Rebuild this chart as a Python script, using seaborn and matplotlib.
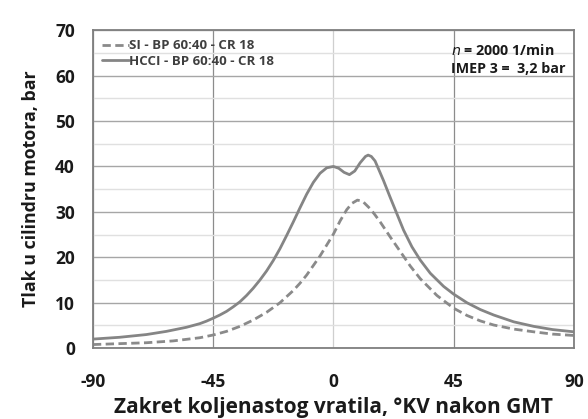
import numpy as np
import pandas as pd
import matplotlib
matplotlib.use("Agg")
import matplotlib.pyplot as plt
import seaborn as sns

angle_hcci = [-90, -80, -70, -62.5, -55, -50, -47.5, -45, -42.5, -40, -37.5, -35, -32.5, -30, -27.5,
              -25, -22.5, -20, -17.5, -15, -12.5, -10, -7.5, -5, -2.5, 0, 2, 4, 6, 8, 10, 12, 13,
              14.2, 15.6, 17, 18.75, 21.25, 23.75, 26.25, 29.4, 32.5, 36.25, 41.25, 45, 50, 55, 60,
              67.5, 75, 82, 90]
p_hcci = [2.0, 2.4, 3.0, 3.7, 4.6, 5.4, 5.95, 6.6, 7.3, 8.1, 9.1, 10.2, 11.6, 13.2, 15.0,
          17.0, 19.3, 21.9, 24.8, 27.8, 30.9, 33.9, 36.5, 38.5, 39.7, 40.0, 39.6, 38.7, 38.2, 39.0, 40.8, 42.2, 42.5,
          42.2, 41.2, 39.3, 36.9, 33.2, 29.6, 26.0, 22.3, 19.4, 16.5, 13.6, 11.9, 10.0, 8.5, 7.3,
          5.8, 4.8, 4.1, 3.6]

angle_si = [-90, -80, -70, -60, -50, -45, -40, -35, -30, -25, -20, -15, -12.5, -10, -7.5, -5, -2.5,
            0, 2.5, 5, 7, 9, 11, 13.75, 15.5, 17.5, 21.25, 25, 28.75, 32.5, 38.75, 45, 50,
            55, 60, 67.5, 75, 82, 90]
p_si = [0.8, 1.0, 1.2, 1.6, 2.3, 2.9, 3.7, 4.8, 6.2, 7.9, 10.0, 12.7, 14.3, 16.1, 18.2, 20.3, 22.7,
        25.1, 28.0, 30.5, 31.9, 32.6, 32.3, 30.7, 29.4, 27.8, 24.5, 21.3, 18.1, 15.3, 11.6, 8.8, 7.2,
        6.0, 5.1, 4.2, 3.6, 3.1, 2.8]

series_labels = ["SI - BP 60:40 - CR 18", "HCCI - BP 60:40 - CR 18"]
x_ticks = [-90, -45, 0, 45, 90]
y_ticks = [0, 10, 20, 30, 40, 50, 60, 70]

sns.set_theme(style="white")
plt.rcParams['font.family'] = ['Open Sans', 'DejaVu Sans']
plt.rcParams['axes.unicode_minus'] = False

df_si = pd.DataFrame({"angle": angle_si, "p": p_si})
df_hcci = pd.DataFrame({"angle": angle_hcci, "p": p_hcci})

fig = plt.figure(figsize=(5.88, 4.19), dpi=100)
ax = fig.add_axes([0.158, 0.169, 0.818, 0.759])

sns.lineplot(data=df_si, x="angle", y="p", ax=ax, color="#8a8a8a", linewidth=2.0,
             linestyle=(0, (3, 1.6)), label=series_labels[0])
sns.lineplot(data=df_hcci, x="angle", y="p", ax=ax, color="#858585", linewidth=2.0,
             label=series_labels[1])
for ln in ax.get_lines():
    ln.set_solid_joinstyle("round")
    ln.set_dash_joinstyle("round")

ax.set_xlim(-90, 90)
ax.set_ylim(0, 70)
ax.set_xticks(x_ticks)
ax.set_yticks(y_ticks)
ax.set_yticks(np.arange(5, 70, 10), minor=True)
ax.grid(True, which="major", axis="y", color="#a6a6a6", linewidth=1.0)
ax.grid(True, which="minor", axis="y", color="#e0e0e0", linewidth=1.0)
ax.grid(True, which="major", axis="x", color="#8c8c8c", linewidth=0.9)
for i, gl in enumerate(ax.xaxis.get_gridlines()):
    if i == 2:
        gl.set_color("#cfcfcf")
ax.set_axisbelow(True)
ax.tick_params(axis="x", which="both", length=0, labelsize=12.5, pad=18)
ax.tick_params(axis="y", which="both", length=0, labelsize=12.5, pad=13)
for lab in ax.get_xticklabels() + ax.get_yticklabels():
    lab.set_fontweight("bold")
    lab.set_color("#1a1a1a")

for s in ax.spines.values():
    s.set_color("#7f7f7f")
    s.set_linewidth(1.3)

ax.set_xlabel("Zakret koljenastog vratila, °KV nakon GMT", fontsize=15, fontweight="bold",
              color="#1a1a1a", labelpad=4)
ax.set_ylabel("Tlak u cilindru motora, bar", fontsize=12.8, fontweight="bold",
              color="#1a1a1a", labelpad=11)

leg = ax.legend(loc="upper left", frameon=False, handlelength=2.0,
                handletextpad=0.0, borderaxespad=0.3, labelspacing=0.2,
                prop={"weight": "bold", "size": 9.5})
for t in leg.get_texts():
    t.set_color("#3f3f3f")

ax.text(0.745, 0.96, r"$\bf{\it{n}}$ = 2000 1/min", transform=ax.transAxes, fontsize=10.3,
        fontweight="bold", color="#1a1a1a", va="top", ha="left", clip_on=True)
ax.text(0.745, 0.90, "IMEP 3 =  3,2 bar", transform=ax.transAxes, fontsize=10.3,
        fontweight="bold", color="#1a1a1a", va="top", ha="left", clip_on=True)

fig.savefig("out.png", dpi=100)
